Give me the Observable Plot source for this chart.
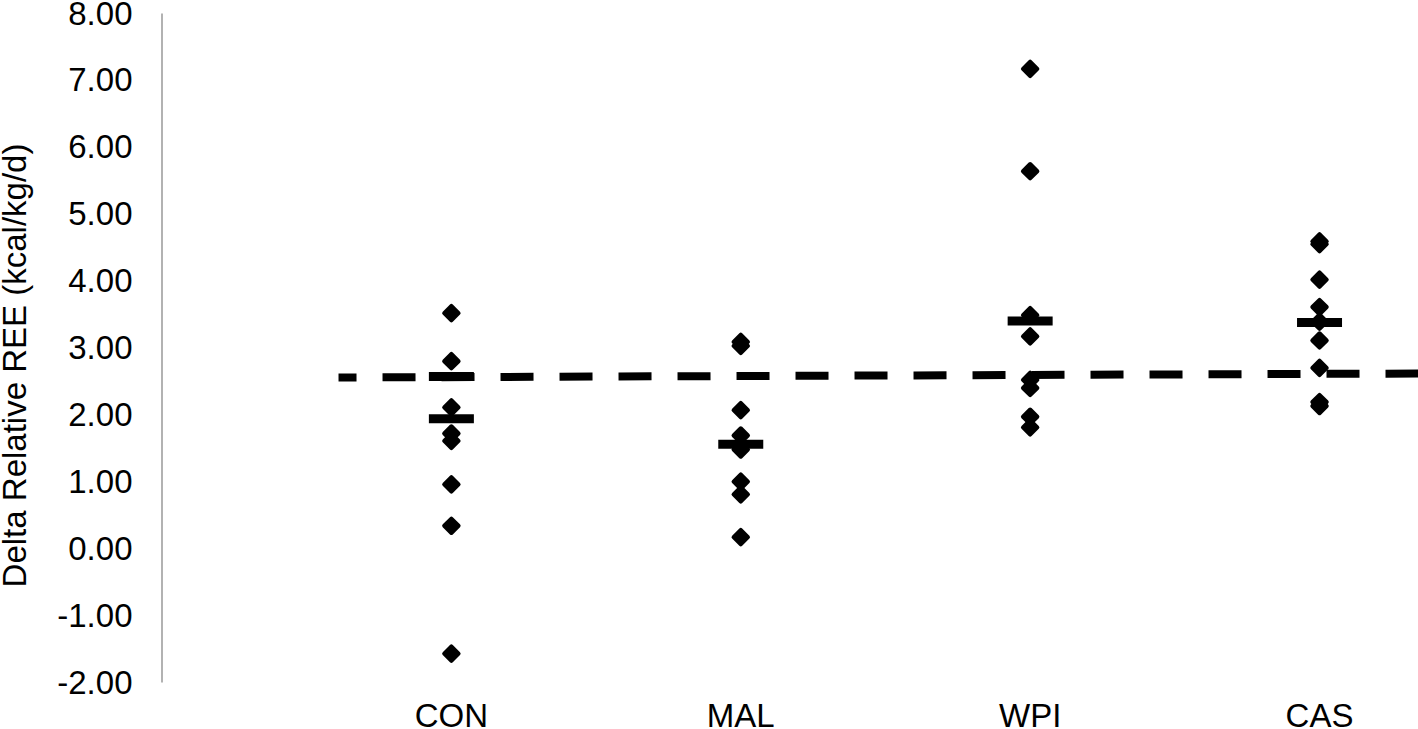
<!DOCTYPE html>
<html>
<head>
<meta charset="utf-8">
<script src="https://cdn.jsdelivr.net/npm/d3@7"></script>
<script src="https://cdn.jsdelivr.net/npm/@observablehq/plot@0.6"></script>
<style>
  html, body { margin: 0; padding: 0; background: #fff; }
  #chart { width: 1418px; height: 729px; }
</style>
</head>
<body>
<div id="chart"></div>
<script>
const categories = ["CON", "MAL", "WPI", "CAS"];
const conValues = [3.53, 2.81, 2.12, 1.73, 1.62, 0.97, 0.35, -1.56];
const malValues = [3.10, 3.04, 2.08, 1.70, 1.49, 1.01, 0.82, 0.18];
const wpiValues = [7.18, 5.65, 3.50, 3.18, 2.53, 2.41, 1.98, 1.82];
const casValues = [4.60, 4.56, 4.03, 3.62, 3.40, 3.12, 2.71, 2.20, 2.14];
const barGroups = ["CON", "CON", "MAL", "WPI", "CAS"];
const barValues = [1.95, 2.58, 1.57, 3.41, 3.39];
const refLineX = [0.61, 4.342];
const refLineY = [2.566, 2.626];
const yTicks = [-2, -1, 0, 1, 2, 3, 4, 5, 6, 7, 8];
const yTitle = "Delta Relative REE (kcal/kg/d)";

const points = [];
[conValues, malValues, wpiValues, casValues].forEach((vals, i) =>
  vals.forEach(v => points.push({pos: i + 1, value: v})));
const bars = barGroups.map((g, i) => ({pos: categories.indexOf(g) + 1, value: barValues[i]}));
const refLine = refLineX.map((x, i) => ({x, y: refLineY[i]}));

const hbar = {
  draw(ctx) {
    ctx.moveTo(-22.5, -4.5);
    ctx.lineTo(22.5, -4.5);
    ctx.lineTo(22.5, 4.5);
    ctx.lineTo(-22.5, 4.5);
    ctx.closePath();
  }
};

const chart = Plot.plot({
  width: 1418,
  height: 729,
  marginLeft: 161.5,
  marginRight: 0,
  marginTop: 13.5,
  marginBottom: 46.5,
  x: {domain: [0, 4.342]},
  y: {domain: [-2, 8]},
  style: {fontFamily: "'Liberation Sans', Arial, sans-serif", fontSize: "33px", color: "#000", background: "#fff"},
  marks: [
    Plot.ruleX([0], {stroke: "#898989", strokeWidth: 1.3}),
    Plot.line(refLine, {x: "x", y: "y", stroke: "#000", strokeWidth: 8, strokeDasharray: "33,26", strokeDashoffset: 15, strokeLinecap: "butt"}),
    Plot.dot(bars, {x: "pos", y: "value", symbol: hbar, fill: "#000"}),
    Plot.dot(points, {x: "pos", y: "value", symbol: "diamond2", r: 6.5, fill: "#000", stroke: "#000", strokeWidth: 4, strokeLinejoin: "round"}),
    Plot.axisY({ticks: yTicks, tickFormat: d => d.toFixed(2), tickSize: 0, tickPadding: 29.5, fontSize: 33, label: null}),
    Plot.axisX({ticks: [1, 2, 3, 4], tickFormat: d => categories[d - 1], tickSize: 0, tickPadding: 20.5, fontSize: 33, label: null}),
    Plot.text([yTitle], {text: d => d, frameAnchor: "left", textAnchor: "middle", lineAnchor: "middle", rotate: -90, dx: -147, dy: 17, fontSize: 33, fill: "#000"})
  ]
});
document.getElementById("chart").appendChild(chart);
</script>
</body>
</html>
